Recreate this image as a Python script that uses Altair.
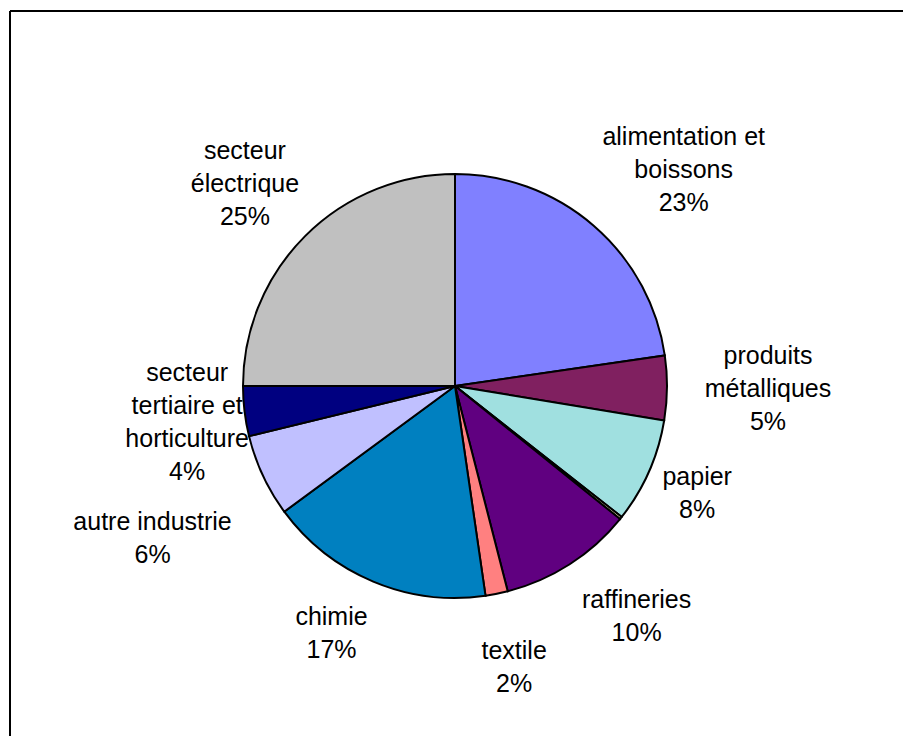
import math
import altair as alt
import pandas as pd

# ---- data (clockwise from 12 o'clock) ----
categories = [
    "alimentation et boissons",
    "produits métalliques",
    "papier",
    "autre",
    "raffineries",
    "textile",
    "chimie",
    "autre industrie",
    "secteur tertiaire et horticulture",
    "secteur électrique",
]
values = [22.7, 4.9, 8.0, 0.2, 10.2, 1.7, 17.2, 6.3, 3.8, 25.0]
label_text = [
    "alimentation et\nboissons",
    "produits\nmétalliques",
    "papier",
    "",
    "raffineries",
    "textile",
    "chimie",
    "autre industrie",
    "secteur\ntertiaire et\nhorticulture",
    "secteur\nélectrique",
]
colors = [
    "#8080FF", "#802060", "#A0E0E0", "#FFFFC0", "#600080",
    "#FF8080", "#0080C0", "#C0C0FF", "#000080", "#C0C0C0",
]

# ---- layout ----
W, H = 893, 725
CX, CY = 445, 375
R = 212
LINE_H = 33
label_radius = [316, 313, 264, 0, 292, 286, 275, 338, 270, 293]
label_angle_shift = [5.5, -0.3, -0.3, 0, -5.7, -0.6, 4.0, -1.5, -0.4, -0.8]

total = sum(values)
rows = []
cum = 0.0
for i, (c, v, t, r, sh) in enumerate(zip(categories, values, label_text, label_radius, label_angle_shift)):
    mid = (cum + v / 2) / total * 2 * math.pi + math.radians(sh)
    cum += v
    lab = f"{t}\n{round(v)}%" if t else ""
    n_lines = lab.count("\n") + 1 if lab else 0
    rows.append({
        "idx": i, "cat": c, "value": v, "label": lab,
        "lx": CX + r * math.sin(mid),
        "ly": CY - r * math.cos(mid) - (n_lines - 1) * LINE_H / 2 + 2,
    })
df = pd.DataFrame(rows)

pie = alt.Chart(df).mark_arc(outerRadius=R, stroke="black", strokeWidth=2).encode(
    theta=alt.Theta("value:Q", stack=True),
    color=alt.Color("cat:N", scale=alt.Scale(domain=categories, range=colors), legend=None),
    order=alt.Order("idx:Q"),
    x=alt.value(CX),
    y=alt.value(CY),
)

labels = alt.Chart(df[df["label"] != ""]).mark_text(
    font="Liberation Sans", fontSize=25, lineHeight=LINE_H, lineBreak="\n",
    align="center", baseline="middle", color="black",
).encode(
    x=alt.X("lx:Q", scale=None, axis=None),
    y=alt.Y("ly:Q", scale=None, axis=None),
    text="label:N",
)

one = pd.DataFrame({"a": [0]})
top_edge = alt.Chart(one).mark_rule(color="black", strokeWidth=2).encode(
    x=alt.value(0), x2=alt.value(W), y=alt.value(0)
)
left_edge = alt.Chart(one).mark_rule(color="black", strokeWidth=2).encode(
    x=alt.value(0), y=alt.value(0), y2=alt.value(H)
)

chart = alt.layer(pie, labels, top_edge, left_edge).properties(
    width=W, height=H,
    padding={"left": 2, "top": 3, "right": 0, "bottom": 0},
    autosize="none",
).configure_view(stroke=None)

chart.save("out.html", embed_options={"renderer": "svg", "actions": False})
